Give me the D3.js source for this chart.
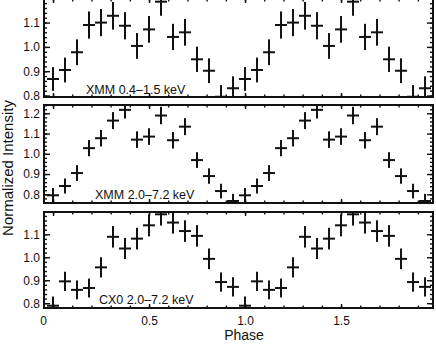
<!DOCTYPE html>
<html>
<head>
<meta charset="utf-8">
<script src="https://cdn.jsdelivr.net/npm/d3@7"></script>
<style>
  body { margin: 0; background: #fff; }
  svg { display: block; font-family: "Liberation Sans", Arial, sans-serif; }
</style>
</head>
<body>
<svg id="chart" width="436" height="349"></svg>
<script>
// pulse profile, 16 phase bins, plotted twice (two cycles)
var binPhase = [0, 0.0625, 0.125, 0.1875, 0.25, 0.3125, 0.375, 0.4375,
                0.5, 0.5625, 0.625, 0.6875, 0.75, 0.8125, 0.875, 0.9375];
var binHalfWidth = 0.03125;

var xmmSoft    = [0.868, 0.905, 0.978, 1.090, 1.100, 1.128, 1.087, 1.004,
                  1.072, 1.186, 1.041, 1.060, 0.949, 0.902, 0.795, 0.830];
var xmmSoftErr = [0.049, 0.051, 0.053, 0.056, 0.056, 0.057, 0.056, 0.053,
                  0.055, 0.058, 0.054, 0.055, 0.052, 0.051, 0.048, 0.049];

var xmmHard    = [0.795, 0.841, 0.905, 1.028, 1.077, 1.164, 1.217, 1.070,
                  1.085, 1.189, 1.067, 1.134, 0.969, 0.890, 0.816, 0.767];
var xmmHardErr = [0.036, 0.037, 0.039, 0.040, 0.041, 0.042, 0.043, 0.041,
                  0.041, 0.043, 0.041, 0.042, 0.039, 0.038, 0.036, 0.035];

var cxoHard    = [0.789, 0.895, 0.858, 0.866, 0.956, 1.089, 1.038, 1.081,
                  1.139, 1.187, 1.151, 1.114, 1.093, 0.993, 0.892, 0.871];
var cxoHardErr = [0.040, 0.042, 0.041, 0.041, 0.044, 0.047, 0.046, 0.047,
                  0.048, 0.049, 0.048, 0.047, 0.047, 0.045, 0.042, 0.042];

var panelLabels = ["XMM 0.4\u20131.5 keV", "XMM 2.0\u20137.2 keV", "CX0 2.0\u20137.2 keV"];
var xMajorTicks = [0, 0.5, 1.0, 1.5];
var xMinorTicks = d3.range(0, 2.0, 0.1);
var yTickLabels = [[0.8, 0.9, 1.0, 1.1], [0.8, 0.9, 1.0, 1.1, 1.2], [0.8, 0.9, 1.0, 1.1]];

var svg = d3.select("#chart");
var left = 44, right = 433;

var x = d3.scaleLinear()
          .domain([-0.047, 1.979])
          .range([left, right]);

var panels = [
  {top: -1,  bottom: 97,  ymin: 0.794, ymax: 1.197, vals: xmmSoft, err: xmmSoftErr, lx: 86, ly: 94},
  {top: 105, bottom: 203, ymin: 0.757, ymax: 1.241, vals: xmmHard, err: xmmHardErr, lx: 95, ly: 199},
  {top: 212, bottom: 308, ymin: 0.779, ymax: 1.197, vals: cxoHard, err: cxoHardErr, lx: 99, ly: 304}
];

panels.forEach(function(p, i) {
  var y = d3.scaleLinear()
            .domain([p.ymin, p.ymax])
            .range([p.bottom, p.top]);

  // two cycles of the same profile
  var pts = [];
  [0, 1].forEach(function(cycle) {
    binPhase.forEach(function(ph, k) {
      pts.push({phase: ph + cycle, v: p.vals[k], e: p.err[k]});
    });
  });

  svg.append("clipPath")
      .attr("id", "clip" + i)
    .append("rect")
      .attr("x", left)
      .attr("y", p.top)
      .attr("width", right - left)
      .attr("height", p.bottom - p.top);

  var g = svg.append("g").attr("clip-path", "url(#clip" + i + ")");

  var cross = g.selectAll(".pt")
      .data(pts)
      .enter()
      .append("g")
      .classed("pt", true);

  cross.append("line")
      .attr("x1", d => x(d.phase))
      .attr("x2", d => x(d.phase))
      .attr("y1", d => y(d.v - d.e))
      .attr("y2", d => y(d.v + d.e))
      .attr("stroke", "#111")
      .attr("stroke-width", 2);

  cross.append("line")
      .attr("x1", d => x(d.phase - binHalfWidth))
      .attr("x2", d => x(d.phase + binHalfWidth))
      .attr("y1", d => y(d.v))
      .attr("y2", d => y(d.v))
      .attr("stroke", "#111")
      .attr("stroke-width", 2);

  // axes, ticks pointing inward
  var yMinor = d3.range(0.7, 1.3, 0.02).filter(v => v >= p.ymin && v <= p.ymax);

  svg.append("g")
      .attr("transform", "translate(" + left + ",0)")
      .call(d3.axisLeft(y).tickValues(yMinor).tickSize(-3).tickFormat(""));
  svg.append("g")
      .attr("transform", "translate(" + left + ",0)")
      .classed("ylab", true)
      .call(d3.axisLeft(y).tickValues(yTickLabels[i]).tickSize(-6).tickPadding(4)
              .tickFormat(d3.format(".1f")));
  svg.append("g")
      .attr("transform", "translate(" + right + ",0)")
      .call(d3.axisRight(y).tickValues(yMinor).tickSize(-3).tickFormat(""));
  svg.append("g")
      .attr("transform", "translate(" + right + ",0)")
      .call(d3.axisRight(y).tickValues(yTickLabels[i]).tickSize(-6).tickFormat(""));

  svg.append("g")
      .attr("transform", "translate(0," + p.top + ")")
      .call(d3.axisTop(x).tickValues(xMinorTicks).tickSize(-2.5).tickFormat(""));
  svg.append("g")
      .attr("transform", "translate(0," + p.top + ")")
      .call(d3.axisTop(x).tickValues(xMajorTicks).tickSize(-4).tickFormat(""));
  svg.append("g")
      .attr("transform", "translate(0," + p.bottom + ")")
      .call(d3.axisBottom(x).tickValues(xMinorTicks).tickSize(-2.5).tickFormat(""));

  svg.append("g")
      .attr("transform", "translate(0," + p.bottom + ")")
      .classed("xlab", true)
      .call(d3.axisBottom(x).tickValues(xMajorTicks).tickSize(-4).tickPadding(8)
              .tickFormat(d => i === 2 ? (d === 0 ? "0" : d3.format(".1f")(d)) : ""));

  // frame
  svg.append("rect")
      .attr("x", left)
      .attr("y", p.top)
      .attr("width", right - left)
      .attr("height", p.bottom - p.top)
      .attr("fill", "none")
      .attr("stroke", "#111")
      .attr("stroke-width", 2);

  svg.append("text")
      .attr("x", p.lx)
      .attr("y", p.ly)
      .attr("font-size", "12.5px")
      .attr("fill", "#111")
      .text(panelLabels[i]);
});

svg.selectAll(".domain").remove();
svg.selectAll(".tick line").attr("stroke", "#111").attr("stroke-width", 1.4);
svg.selectAll(".tick text").attr("font-size", "12px").attr("fill", "#111")
    .style("font-family", "'Liberation Sans', Arial, sans-serif");
// the "0" label sits flush with the left frame in the original
svg.selectAll(".xlab .tick text").filter(d => d === 0).attr("dx", -10);

svg.append("text")
    .attr("x", 244)
    .attr("y", 340)
    .attr("font-size", "14px")
    .attr("fill", "#111")
    .style("text-anchor", "middle")
    .text("Phase");

svg.append("text")
    .attr("transform", "translate(13,168) rotate(-90)")
    .attr("font-size", "15px")
    .attr("fill", "#111")
    .style("text-anchor", "middle")
    .text("Normalized Intensity");
</script>
</body>
</html>
